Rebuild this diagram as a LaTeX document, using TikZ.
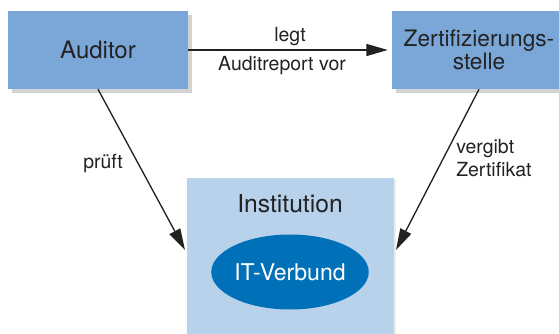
\documentclass[tikz,border=0pt]{standalone}
\usepackage{fontspec}
\setmainfont{TeX Gyre Heros}
\usetikzlibrary{arrows.meta,shadows,shapes.geometric}
\definecolor{boxblue}{RGB}{123,167,216}
\definecolor{instblue}{RGB}{184,210,236}
\definecolor{verbblue}{RGB}{0,112,184}
\definecolor{txtgray}{RGB}{34,34,34}

\begin{document}
\begin{tikzpicture}[x=0.75pt,y=0.75pt,yscale=-1,xscale=1,
        topbox/.style={fill=boxblue,minimum height=58.5pt,inner sep=0pt,align=center,text=txtgray,
            font=\fontsize{18}{17.5}\selectfont,
            drop shadow={shadow xshift=3pt,shadow yshift=-3pt,opacity=0.35}},
        lbl/.style={inner sep=0.75pt,text=txtgray,font=\fontsize{14.6}{17}\selectfont},
        pfeil/.style={-{Stealth[inset=0pt,length=16pt,width=9pt]},line width=1pt,draw=txtgray}]
        \useasboundingbox (0,0) rectangle (559,334);
        \clip (0,0) rectangle (559,334);

        % boxes
        \node [topbox,minimum width=135pt] (aud) at (98,50) {Auditor};
        \node [topbox,minimum width=130.5pt,font=\fontsize{17}{17.3}\selectfont] (zert) at (479,50) {Zertifizierungs-\\stelle};
        \node [fill=instblue,minimum width=155.25pt,minimum height=125pt,anchor=north,inner sep=0pt,
            drop shadow={shadow xshift=1.5pt,shadow yshift=-1.5pt,opacity=0.15}] (inst) at (290.5,178) {};
        \node [lbl,font=\fontsize{18.5}{19}\selectfont] (insttxt) at (290,204) {Institution};
        \node [ellipse,fill=verbblue,minimum width=116.25pt,minimum height=56.25pt,inner sep=0pt,text=white,font=\fontsize{17.3}{19}\selectfont] (verb) at (290,272) {IT-Verbund};

        % arrows
        \coordinate (inl) at (185,250);
        \coordinate (inr) at (396,250);
        \draw [pfeil,shorten >=3pt] (aud) -- (zert);
        \draw [pfeil] (aud.south) -- (inl);
        \draw [pfeil] (zert.south) -- (inr);

        \node [lbl] (legt) at (290,37) {legt};
        \node [lbl] (report) at (282,66) {Auditreport vor};
        \node [lbl] (prueft) at (103,163) {prüft};
        \node [lbl,align=left,anchor=west] (vergibt) at (455,158) {vergibt\\Zertifikat};
    \end{tikzpicture}
\end{document}
